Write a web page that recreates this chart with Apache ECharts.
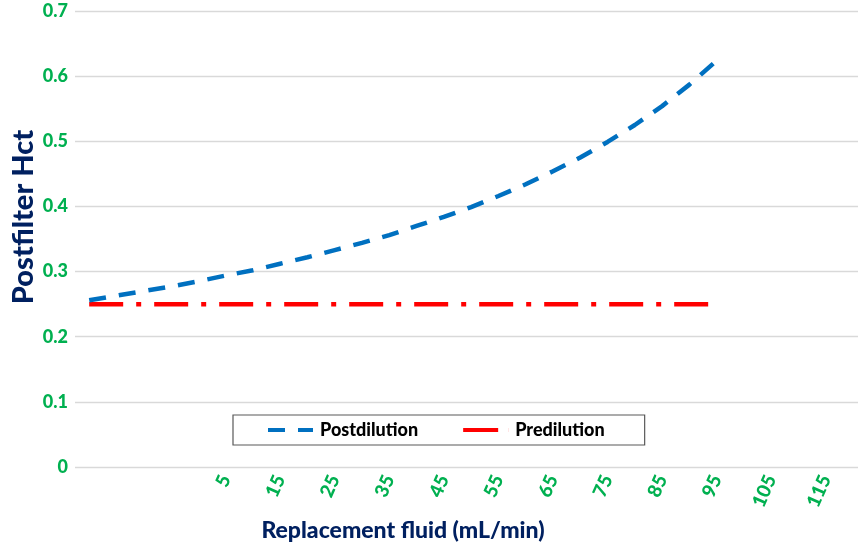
<!DOCTYPE html>
<html>
<head>
<meta charset="utf-8">
<script src="https://cdn.jsdelivr.net/npm/echarts@6/dist/echarts.min.js"></script>
<style>
html,body{margin:0;padding:0;background:#fff;}
#chart{width:858px;height:551px;}
</style>
</head>
<body>
<div id="chart"></div>
<script>
// Replacement fluid positions (mL/min) of the plotted points
const xValues = [-20,-15,-10,-5,0,5,10,15,20,25,30,35,40,45,50,55,60,65,70,75,80,85,90,95];
// Postfilter Hct, postdilution
const postdilution = [0.256,0.263,0.270,0.277,0.285,0.294,0.302,0.312,0.322,0.333,0.344,0.356,0.370,0.384,0.399,0.416,0.434,0.454,0.475,0.499,0.525,0.554,0.587,0.624];
// Postfilter Hct, predilution
const predilution = [0.25,0.25,0.25,0.25,0.25,0.25,0.25,0.25,0.25,0.25,0.25,0.25,0.25,0.25,0.25,0.25,0.25,0.25,0.25,0.25,0.25,0.25,0.25,0.25];
// X tick labels
const xTickLabels = [5,15,25,35,45,55,65,75,85,95,105,115];
// Y tick labels
const yTickLabels = [0,0.1,0.2,0.3,0.4,0.5,0.6,0.7];

const FONT = 'Lato';
const GREEN = '#00B050';
const NAVY = '#002060';
const BLUE = '#0070C0';
const RED = '#FF0000';

const chart = echarts.init(document.getElementById('chart'), null, {renderer:'canvas'});
chart.setOption({
  backgroundColor:'#ffffff',
  animation:false,
  grid:{left:75, right:0, top:11, bottom:84, outerBoundsMode:'none'},
  xAxis:{
    type:'value', min:-22.6, max:120.9,
    axisLine:{show:false}, axisTick:{show:false}, splitLine:{show:false},
    axisLabel:{
      customValues:xTickLabels, rotate:66, margin:9,
      color:GREEN, fontFamily:FONT, fontWeight:900, fontSize:19
    }
  },
  yAxis:{
    type:'value', min:yTickLabels[0], max:yTickLabels[yTickLabels.length-1], interval:0.1,
    axisLine:{show:false}, axisTick:{show:false},
    splitLine:{lineStyle:{color:'#d9d9d9', width:1.3}},
    axisLabel:{margin:7, color:GREEN, fontFamily:FONT, fontWeight:900, fontSize:18}
  },
  legend:{
    left:233, top:415, orient:'horizontal', symbolKeepAspect:false,
    padding:[6,40,6,35], itemGap:45, itemWidth:45, itemHeight:4,
    borderColor:'#595959', borderWidth:1.2, backgroundColor:'#ffffff',
    textStyle:{color:'#000', fontFamily:FONT, fontWeight:900, fontSize:18, padding:[0,0,0,2]},
    data:[
      {name:'Postdilution', icon:'path://M0,0L17,0L17,4L0,4Z M30,0L45,0L45,4L30,4Z', itemStyle:{color:BLUE}},
      {name:'Predilution', icon:'path://M0,0L35,0L35,4L0,4Z M44.9,0L45,0L45,4L44.9,4Z', itemStyle:{color:RED}}
    ]
  },
  graphic:[
    {type:'text', x:24, y:217, rotation:Math.PI/2,
     style:{text:'Postfilter Hct', fill:NAVY, font:'900 29px Lato', textAlign:'center', textVerticalAlign:'middle'}},
    {type:'text', x:403, y:531,
     style:{text:'Replacement fluid (mL/min)', fill:NAVY, font:'900 23px Lato', textAlign:'center', textVerticalAlign:'middle'}}
  ],
  series:[
    {name:'Postdilution', type:'line', symbol:'none',
     data:xValues.map((x,i)=>[x, postdilution[i]]),
     lineStyle:{color:BLUE, width:4.5, type:[17,13]}, itemStyle:{color:BLUE}, z:3},
    {name:'Predilution', type:'line', symbol:'none',
     data:xValues.map((x,i)=>[x, predilution[i]]),
     lineStyle:{color:RED, width:4.5, type:[34,13,5,13]}, itemStyle:{color:RED}, z:2}
  ]
});
</script>
</body>
</html>
